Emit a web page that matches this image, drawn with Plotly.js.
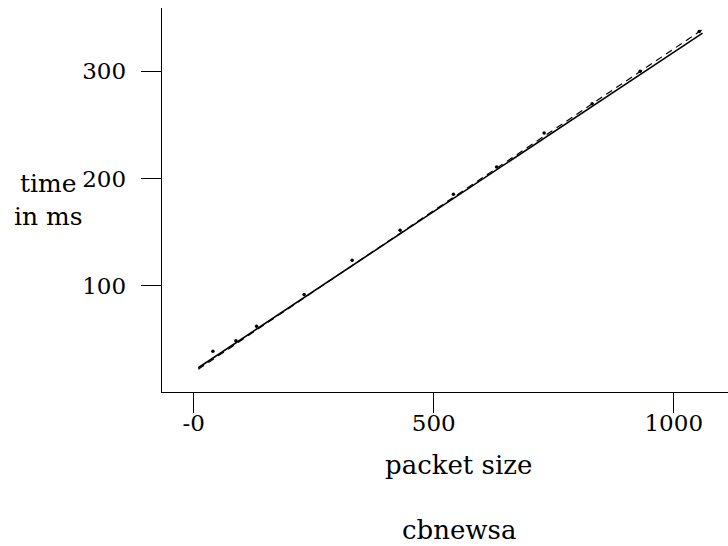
<!DOCTYPE html>
<html>
<head>
<meta charset="utf-8">
<script src="https://cdn.plot.ly/plotly-3.0.1.min.js"></script>
<style>html,body{margin:0;padding:0;background:#fff;}#chart{width:728px;height:546px;}</style>
</head>
<body>
<div id="chart"></div>
<script>
// measured points
const packetSize = [40, 88, 131, 230, 330, 430, 541, 631, 730, 830, 930, 1053];
const timeMs     = [39.1, 48.7, 62.4, 92, 123.9, 151.8, 185.4, 210.8, 242.5, 269.8, 300, 337.2];
// fitted lines (end points)
const solidFitX = [9.6, 1060];
const solidFitY = [23.6, 335.6];
const dashFitX  = [9.6, 1060];
const dashFitY  = [22.2, 339.0];
// axis ticks
const xTickVals = [0, 500, 1000];
const xTickText = ["-0", "500", "1000"];
const yTickVals = [100, 200, 300];
const yTickText = ["100", "200", "300"];

const FONT = "DejaVu Serif";
const TICK_FS = 23;
const TITLE_FS = 26;

const traces = [
  {x: dashFitX, y: dashFitY, mode: "lines", line: {color: "#000", width: 1.2, dash: "7px,5px"}, hoverinfo: "skip"},
  {x: solidFitX, y: solidFitY, mode: "lines", line: {color: "#000", width: 1.6}, hoverinfo: "skip"},
  {x: packetSize, y: timeMs, mode: "markers", marker: {color: "#000", size: 3.5, symbol: "circle"}}
];

const layout = {
  width: 728, height: 546,
  margin: {l: 162, r: 0, t: 8, b: 154},
  paper_bgcolor: "#fff", plot_bgcolor: "#fff",
  showlegend: false,
  font: {family: FONT, size: TICK_FS, color: "#000"},
  xaxis: {
    range: [-66, 1113],
    showgrid: false, zeroline: false,
    showline: true, linecolor: "#000", linewidth: 1.3,
    ticks: "outside", ticklen: 20, tickwidth: 1.3, tickcolor: "#000",
    tickvals: xTickVals, ticktext: xTickText,
    ticklabelstandoff: -10,
    tickfont: {family: FONT, size: TICK_FS, color: "#000"}
  },
  yaxis: {
    range: [1, 359],
    showgrid: false, zeroline: false,
    showline: true, linecolor: "#000", linewidth: 1.3,
    ticks: "outside", ticklen: 20, tickwidth: 1.3, tickcolor: "#000",
    tickvals: yTickVals, ticktext: yTickText,
    ticklabelstandoff: 10,
    tickfont: {family: FONT, size: TICK_FS, color: "#000"}
  },
  annotations: [
    {text: "time<br>in ms", xref: "paper", yref: "paper", x: -0.2, y: 0.5,
     xanchor: "center", yanchor: "middle", showarrow: false, align: "center",
     font: {family: FONT, size: 25, color: "#000"}},
    {text: "packet size", xref: "paper", yref: "paper", x: 0.5247, y: -0.19,
     xanchor: "center", yanchor: "middle", showarrow: false,
     font: {family: FONT, size: TITLE_FS, color: "#000"}},
    {text: "cbnewsa", xref: "paper", yref: "paper", x: 0.5247, y: -0.359,
     xanchor: "center", yanchor: "middle", showarrow: false,
     font: {family: FONT, size: TITLE_FS, color: "#000"}}
  ]
};

Plotly.newPlot("chart", traces, layout, {staticPlot: true, displayModeBar: false});
</script>
</body>
</html>
